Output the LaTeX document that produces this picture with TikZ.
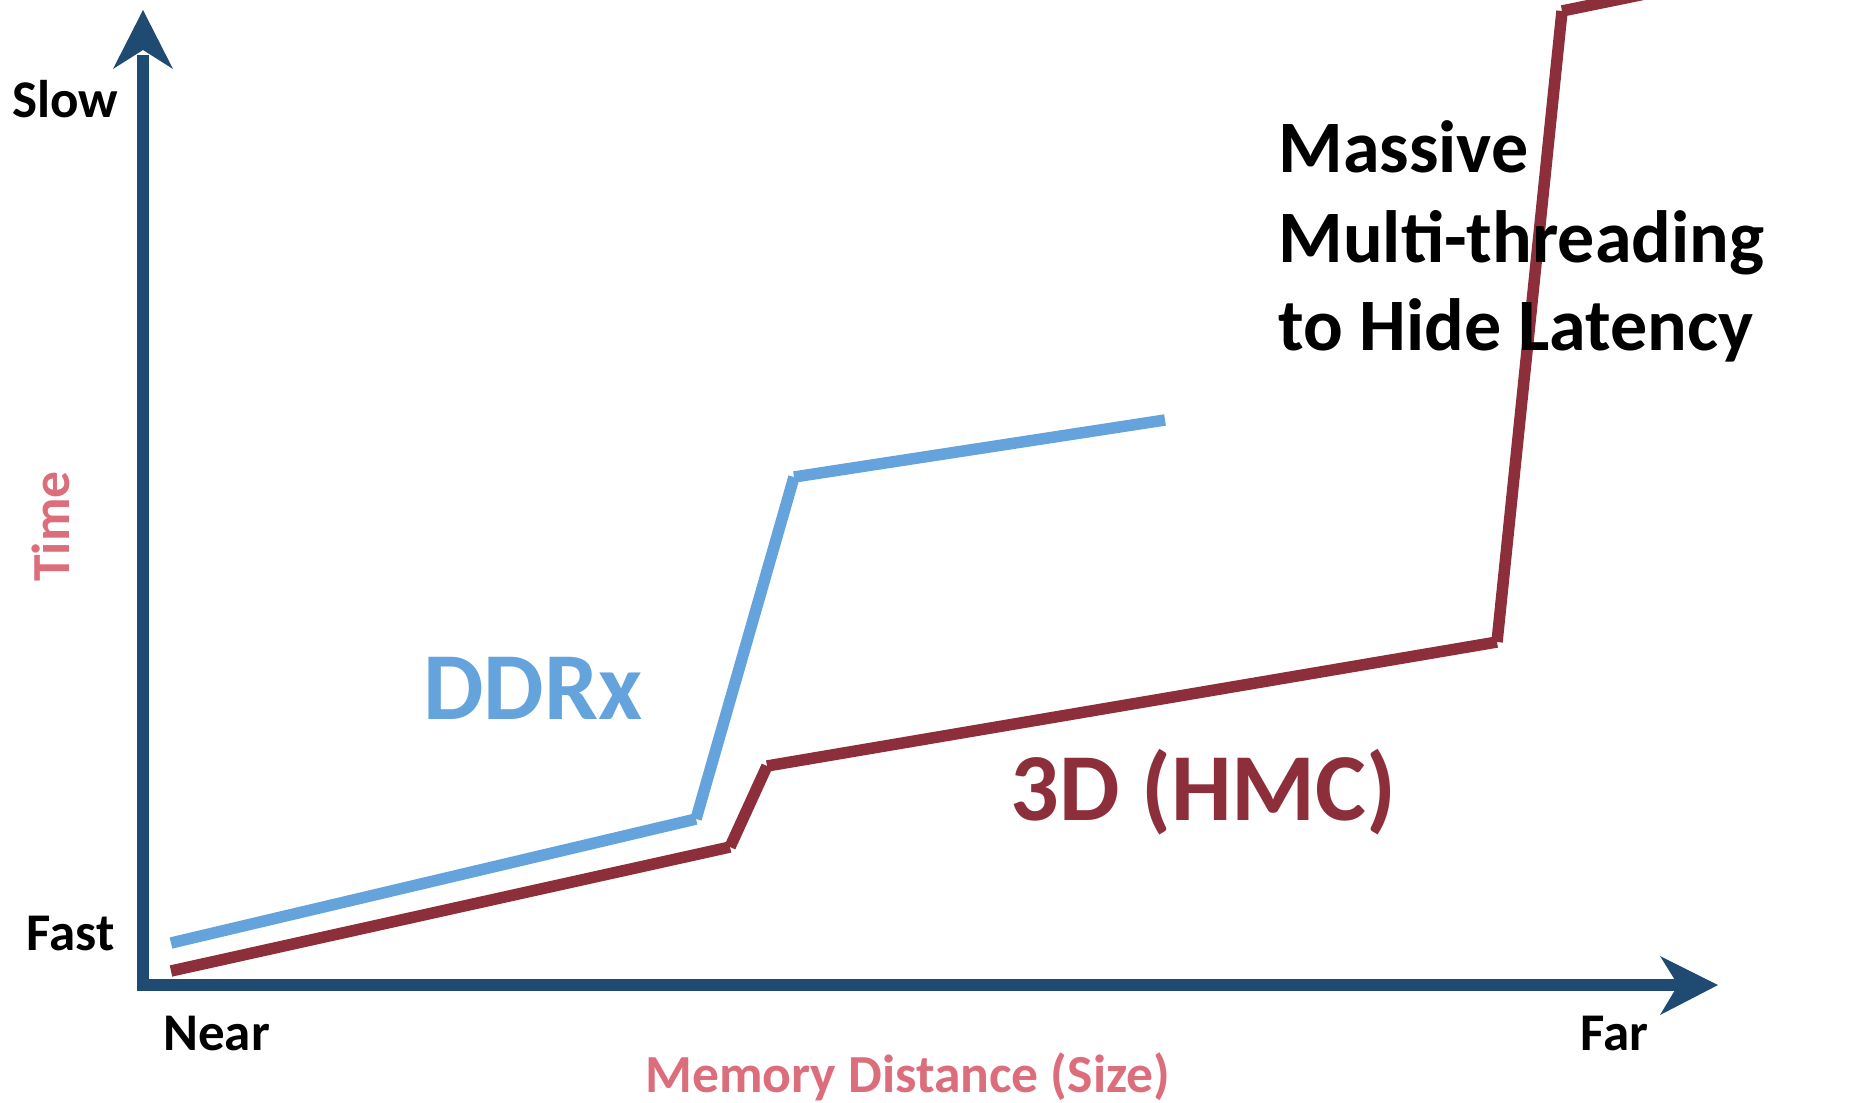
\documentclass[tikz,border=0pt]{standalone}
\usepackage{fontspec}
\setmainfont{Carlito}
\definecolor{axisblue}{HTML}{1F4B73}
\definecolor{ddrblue}{HTML}{65A3DD}
\definecolor{hmcred}{HTML}{8C2F3B}
\definecolor{titlepink}{HTML}{DC6E7C}
\tikzset{
  axisline/.style={draw=axisblue, line width=6pt, line join=miter},
  axistip/.style={fill=axisblue},
  ddrline/.style={draw=ddrblue, line width=5.75pt, line cap=butt},
  hmcline/.style={draw=hmcred, line width=5.75pt, line cap=butt},
  ticklabel/.style={font=\bfseries\fontsize{26.5}{30}\selectfont, inner sep=0pt, anchor=base west},
  axistitle/.style={font=\bfseries\fontsize{26.8}{30}\selectfont, text=titlepink, inner sep=0pt, anchor=base west},
  curvelabel/.style={font=\bfseries\fontsize{48}{56}\selectfont, inner sep=0pt, anchor=base west},
  notelabel/.style={font=\bfseries\fontsize{37}{44}\selectfont, inner sep=0pt, anchor=base west},
}
\begin{document}
\begin{tikzpicture}[x=0.5pt, y=-0.5pt]
\path[use as bounding box] (0,0) rectangle (1871,1102);
\clip (0,0) rectangle (1871,1102);

% axes
\draw[axisline] (143,55) -- (143,985) -- (1680,985);
\fill[axistip] (143,10) -- (173,69) -- (143,50) -- (113,69) -- cycle;
\fill[axistip] (1718,985) -- (1660,1015) -- (1678,985) -- (1660,956) -- cycle;

% DDRx curve
\coordinate (d1) at (171,943);
\coordinate (d2) at (696,819);
\coordinate (d3) at (794,477);
\coordinate (d4) at (1165,420);
\draw[ddrline] (d1) -- (d2);
\draw[ddrline] (d2) -- (d3);
\draw[ddrline] (d3) -- (d4);

% 3D (HMC) curve
\coordinate (h1) at (171,971);
\coordinate (h2) at (730,847);
\coordinate (h3) at (767,766);
\coordinate (h4) at (1497,642);
\coordinate (h5) at (1562,11);
\coordinate (h6) at (1645,-6);
\draw[hmcline] (h1) -- (h2);
\draw[hmcline] (h2) -- (h3);
\draw[hmcline] (h3) -- (h4);
\draw[hmcline] (h4) -- (h5);
\draw[hmcline] (h5) -- (h6);

% axis labels
\node[ticklabel] (slow) at (12,118) {Slow};
\node[ticklabel] (fast) at (26,950) {Fast};
\node[ticklabel] (near) at (163,1050) {Near};
\node[ticklabel] (far) at (1580,1050) {Far};
\node[axistitle] (xtitle) at (645,1092) {Memory Distance (Size)};
\node[axistitle, rotate=90] (ytitle) at (69,582) {Time};

% curve labels
\node[curvelabel, text=ddrblue] (ddr) at (423,719) {DDRx};
\node[curvelabel, text=hmcred] (hmc) at (1010,820) {3D (HMC)};

% note
\node[notelabel] (note1) at (1278,172) {Massive};
\node[notelabel] (note2) at (1278,262) {Multi-threading};
\node[notelabel] (note3) at (1278,350) {to Hide Latency};
\end{tikzpicture}
\end{document}
